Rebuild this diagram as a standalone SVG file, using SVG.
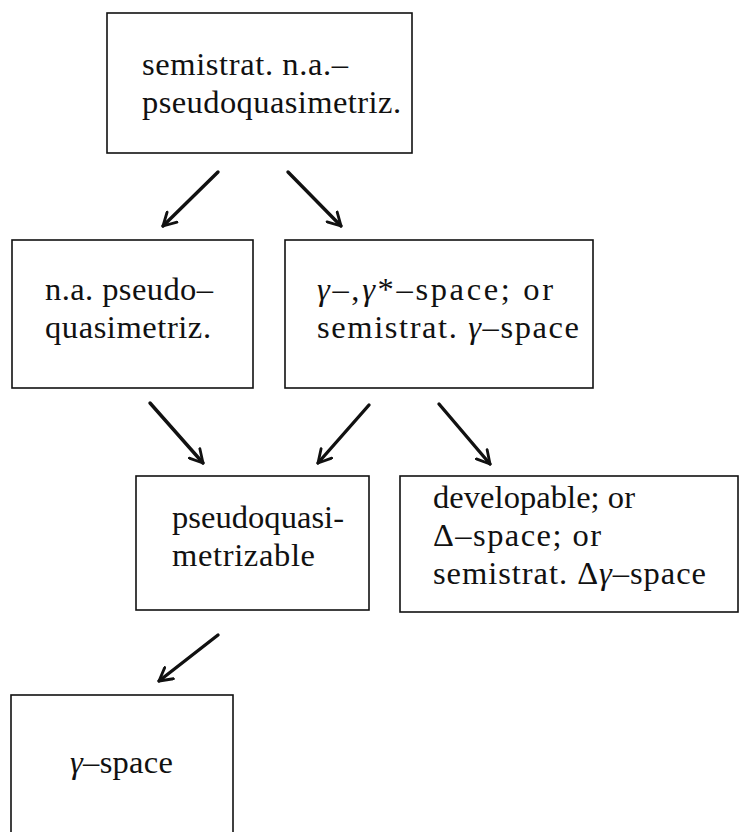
<svg xmlns="http://www.w3.org/2000/svg" width="741" height="832" viewBox="0 0 741 832">
<style>
.box{fill:none;stroke:#111;stroke-width:1.6}
.t{font-family:"Liberation Serif","Times New Roman",serif;font-size:32.5px;fill:#111}
.g{font-style:italic}
.arr{stroke:#111;stroke-width:3.4;fill:none;stroke-linecap:round;marker-end:url(#ah)}
</style>
<defs>
<marker id="ah" viewBox="0 0 12 12" refX="10" refY="6" markerWidth="5" markerHeight="5" orient="auto" markerUnits="strokeWidth">
<path d="M1,1 L10,6 L1,11" fill="none" stroke="#111" stroke-width="2" stroke-linecap="round" stroke-linejoin="round"/>
</marker>
</defs>
<rect width="741" height="832" fill="#fff"/>
<g id="n1">
<rect class="box" x="107" y="13" width="305" height="140"/>
<text class="t" x="142" y="75" textLength="206" lengthAdjust="spacing">semistrat. n.a.–</text>
<text class="t" x="142" y="113" textLength="259" lengthAdjust="spacing">pseudoquasimetriz.</text>
</g>
<g id="n2">
<rect class="box" x="12" y="240" width="241" height="148"/>
<text class="t" x="45" y="300" textLength="168" lengthAdjust="spacing">n.a. pseudo–</text>
<text class="t" x="45" y="338" textLength="166" lengthAdjust="spacing">quasimetriz.</text>
</g>
<g id="n3">
<rect class="box" x="285" y="240" width="308" height="148"/>
<text class="t" x="317" y="300" textLength="236" lengthAdjust="spacing"><tspan class="g">γ</tspan>–,<tspan class="g">γ</tspan>*–space; or</text>
<text class="t" x="317" y="338" textLength="262" lengthAdjust="spacing">semistrat. <tspan class="g">γ</tspan>–space</text>
</g>
<g id="n4">
<rect class="box" x="136" y="476" width="233" height="134"/>
<text class="t" x="172" y="528" textLength="172" lengthAdjust="spacing">pseudoquasi-</text>
<text class="t" x="172" y="566" textLength="143" lengthAdjust="spacing">metrizable</text>
</g>
<g id="n5">
<rect class="box" x="400" y="476" width="338" height="136"/>
<text class="t" x="433" y="508" textLength="202" lengthAdjust="spacing">developable; or</text>
<text class="t" x="433" y="546" textLength="168" lengthAdjust="spacing">Δ–space; or</text>
<text class="t" x="433" y="584" textLength="273" lengthAdjust="spacing">semistrat. Δ<tspan class="g">γ</tspan>–space</text>
</g>
<g id="n6">
<rect class="box" x="11" y="695" width="222" height="150"/>
<text class="t" x="70" y="773" textLength="103" lengthAdjust="spacing"><tspan class="g">γ</tspan>–space</text>
</g>
<g id="connectors">
<line class="arr" x1="218" y1="172" x2="163" y2="226"/>
<line class="arr" x1="288" y1="172" x2="341" y2="226"/>
<line class="arr" x1="150" y1="403" x2="203" y2="463"/>
<line class="arr" x1="369" y1="405" x2="318" y2="463"/>
<line class="arr" x1="439" y1="404" x2="490" y2="464"/>
<line class="arr" x1="218" y1="635" x2="159" y2="681"/>
</g>
</svg>
